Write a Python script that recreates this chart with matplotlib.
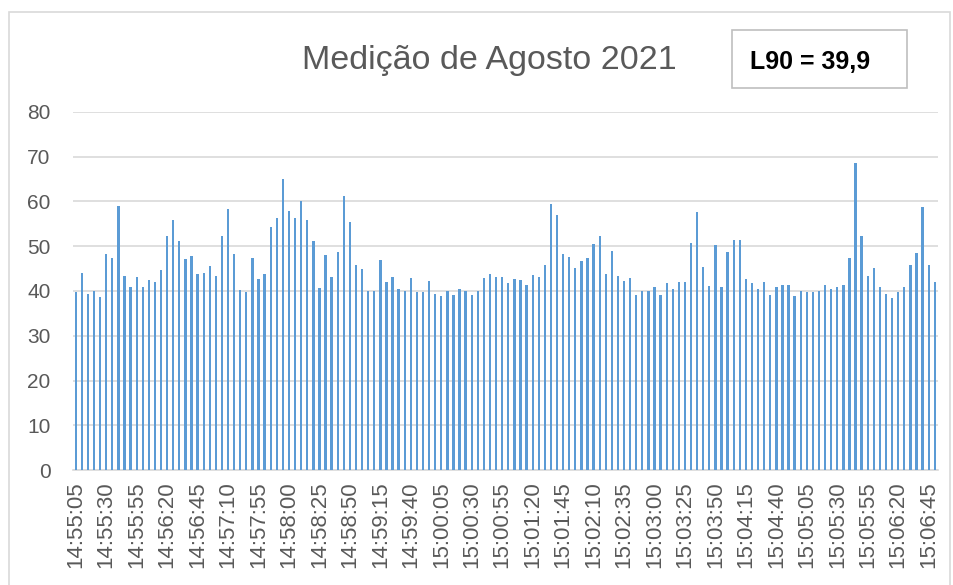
import matplotlib
matplotlib.use("Agg")
import matplotlib.pyplot as plt
import matplotlib.patches as patches
import numpy as np

################################################################################

title = "Medição de Agosto 2021"
l90_text = "L90 = 39,9"

# noise level readings (dB), one per sample
levels = [
    39.7, 44.1, 39.4, 40.1, 38.6, 48.3, 47.4, 59.1, 43.4, 41.0,
    43.2, 40.8, 42.4, 42.1, 44.8, 52.4, 55.9, 51.2, 47.1, 47.9,
    43.9, 44.1, 45.6, 43.3, 52.2, 58.3, 48.3, 40.2, 39.7, 47.4,
    42.7, 43.9, 54.2, 56.3, 65.1, 57.9, 56.4, 60.0, 55.9, 51.1,
    40.7, 48.1, 43.1, 48.8, 61.3, 55.4, 45.9, 45.0, 40.1, 39.9,
    47.0, 41.9, 43.1, 40.4, 39.9, 42.9, 39.7, 39.7, 42.2, 39.4,
    38.8, 39.9, 39.0, 40.4, 39.9, 39.0, 40.0, 43.0, 43.7, 43.1,
    43.1, 41.7, 42.7, 42.4, 41.4, 43.5, 43.2, 45.9, 59.5, 57.0,
    48.3, 47.5, 45.1, 46.7, 47.4, 50.6, 52.2, 43.9, 49.0, 43.3,
    42.2, 42.8, 39.0, 40.1, 40.1, 40.8, 39.0, 41.7, 40.4, 42.1,
    42.1, 50.8, 57.7, 45.3, 41.1, 50.2, 40.8, 48.8, 51.4, 51.3,
    42.7, 41.8, 40.4, 41.9, 39.1, 40.8, 41.4, 41.4, 38.9, 40.1,
    39.7, 39.7, 39.9, 41.4, 40.4, 41.0, 41.4, 47.3, 68.5, 52.4,
    43.4, 45.2, 40.8, 39.3, 38.5, 39.7, 40.8, 45.9, 48.4, 58.8,
    45.7, 41.9,
]

# time labels shown on every 5th sample
time_labels = [
    "14:55:05", "14:55:30", "14:55:55", "14:56:20", "14:56:45", "14:57:10",
    "14:57:55", "14:58:00", "14:58:25", "14:58:50", "14:59:15", "14:59:40",
    "15:00:05", "15:00:30", "15:00:55", "15:01:20", "15:01:45", "15:02:10",
    "15:02:35", "15:03:00", "15:03:25", "15:03:50", "15:04:15", "15:04:40",
    "15:05:05", "15:05:30", "15:05:55", "15:06:20", "15:06:45",
]

y_ticks = [0, 10, 20, 30, 40, 50, 60, 70, 80]

################################################################################

plt.rcParams['font.family'] = ['Liberation Sans', 'DejaVu Sans']
W, H = 954, 585
fig = plt.figure(figsize=(W / 100, H / 100), dpi=100)

grey_txt = '#595959'
grid_col = '#D9D9D9'

def px_rect(x0, y0, x1, y1, **kw):
    # rectangle given in pixel coords measured from the top-left corner
    return patches.Rectangle((x0 / W, 1 - y1 / H), (x1 - x0) / W, (y1 - y0) / H,
                             transform=fig.transFigure, **kw)

# outer chart border
fig.patches.append(px_rect(9, 12, 950, 600, fill=False,
                           edgecolor=grid_col, linewidth=1.2))

ax = fig.add_axes([72.7 / W, 1 - 470 / H, (937.8 - 72.7) / W, (470 - 112) / H])

x = np.arange(len(levels))
ax.bar(x, levels, width=0.38, color='#5B9BD5', zorder=3)

ax.set_xlim(-0.5, len(levels) - 0.5)
ax.set_ylim(0, 80)
ax.set_yticks(y_ticks)
ax.set_xticks(x[::5])
ax.set_xticklabels(time_labels, rotation=90)

ax.grid(axis='y', color=grid_col, linewidth=1.2, zorder=0)
for s in ['top', 'right', 'left']:
    ax.spines[s].set_visible(False)
ax.spines['bottom'].set_color(grid_col)
ax.spines['bottom'].set_linewidth(1.2)
ax.tick_params(axis='both', length=0, colors=grey_txt)
ax.tick_params(axis='y', labelsize=15, pad=16)
ax.tick_params(axis='x', labelsize=16, pad=8)

fig.text(489 / W, 1 - 60 / H, title, ha='center', va='center',
         fontsize=24.5, color=grey_txt)

# L90 box
fig.patches.append(px_rect(732, 30, 907, 88, facecolor='white',
                           edgecolor='#BFBFBF', linewidth=1.2))
fig.text(810 / W, 1 - 62 / H, l90_text, ha='center', va='center',
         fontsize=18, fontweight='bold', color='black')

fig.savefig('out.png', dpi=100)
